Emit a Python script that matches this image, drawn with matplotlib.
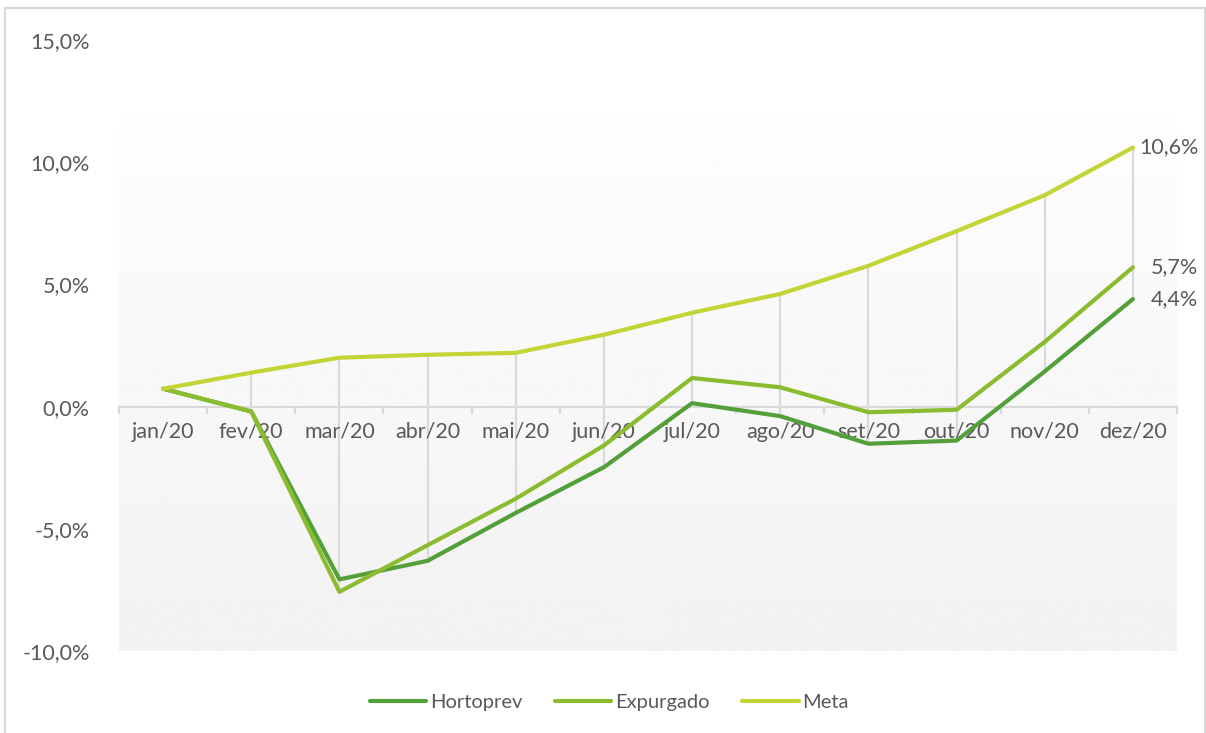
import numpy as np
import matplotlib
matplotlib.use('Agg')
import matplotlib.pyplot as plt

# months and series values (%)
months = ['jan/20', 'fev/20', 'mar/20', 'abr/20', 'mai/20', 'jun/20',
          'jul/20', 'ago/20', 'set/20', 'out/20', 'nov/20', 'dez/20']
hortoprev = [0.73, -0.2, -7.07, -6.31, -4.35, -2.48, 0.14, -0.39, -1.52, -1.39, 1.44, 4.4]
expurgado = [0.73, -0.2, -7.58, -5.67, -3.77, -1.59, 1.17, 0.79, -0.23, -0.13, 2.65, 5.7]
meta = [0.73, 1.39, 2.0, 2.12, 2.2, 2.94, 3.84, 4.61, 5.76, 7.18, 8.65, 10.6]
end_labels = ['4,4%', '5,7%', '10,6%']
y_ticks = [-10, -5, 0, 5, 10, 15]

plt.rcParams['font.family'] = ['Lato', 'DejaVu Sans']
txt = '#595959'
grid_c = '#D9D9D9'
colors = ['#53A03A', '#8BBB2E', '#C3D536']
names = ['Hortoprev', 'Expurgado', 'Meta']

fig = plt.figure(figsize=(12.06, 7.33), dpi=100)
ax = fig.add_axes([119/1206, 1 - 651/733, (1177 - 119)/1206, (651 - 40)/733])
ax.set_facecolor('none')

# chart border
fig.patches.append(plt.Rectangle((5/1206, -0.05), (1205 - 5)/1206, 1.05 - 8/733,
                                 transform=fig.transFigure, fill=False,
                                 edgecolor='#D9D9D9', lw=1.5))

x = np.arange(len(months))
ax.set_xlim(-0.5, len(months) - 0.5)
ax.set_ylim(-10, 15)

# plot area gradient
grad = np.linspace(0.949, 0.993, 256).reshape(-1, 1)
ax.imshow(grad, cmap='gray', vmin=0, vmax=1, aspect='auto', origin='lower',
          extent=(-0.5, len(months) - 0.5, -10, 11.8), zorder=0)

# high-low lines
series = [hortoprev, expurgado, meta]
arr = np.array(series)
ax.vlines(x, arr.min(axis=0), arr.max(axis=0), color=grid_c, lw=1.5, zorder=1)

for s, c, n in zip(series, colors, names):
    ax.plot(x, s, color=c, lw=3, label=n, solid_capstyle='round',
            solid_joinstyle='round', zorder=3)

for s, lab in zip(series, end_labels):
    ax.annotate(lab, (x[-1], s[-1]), xytext=(47, 0), textcoords='offset points',
                ha='right', va='center', fontsize=15.5, color=txt)

for sp in ['top', 'right', 'left']:
    ax.spines[sp].set_visible(False)
ax.spines['bottom'].set_position(('data', 0))
ax.spines['bottom'].set_color(grid_c)
ax.spines['bottom'].set_linewidth(1.5)
ax.spines['bottom'].set_zorder(2)

ax.set_xticks(np.arange(-0.5, len(months), 1))
ax.set_xticklabels([])
ax.tick_params(axis='x', which='major', length=5, width=1.5, color=grid_c)
ax.set_xticks(x, minor=True)
ax.set_xticklabels(months, minor=True)
ax.tick_params(axis='x', which='minor', length=0, pad=11, labelsize=15.5, labelcolor=txt)

ax.set_yticks(y_ticks)
ax.set_yticklabels([f'{v:.1f}%'.replace('.', ',') for v in y_ticks])
ax.tick_params(axis='y', length=0, pad=21, labelsize=15.5, labelcolor=txt)

fig.legend(loc='center', bbox_to_anchor=(609.5/1206, 1 - 702/733), ncol=3,
           frameon=False, fontsize=14.5, labelcolor=txt, handlelength=2.8,
           handletextpad=0.2, columnspacing=1.6)

fig.savefig('out.png', dpi=100)
